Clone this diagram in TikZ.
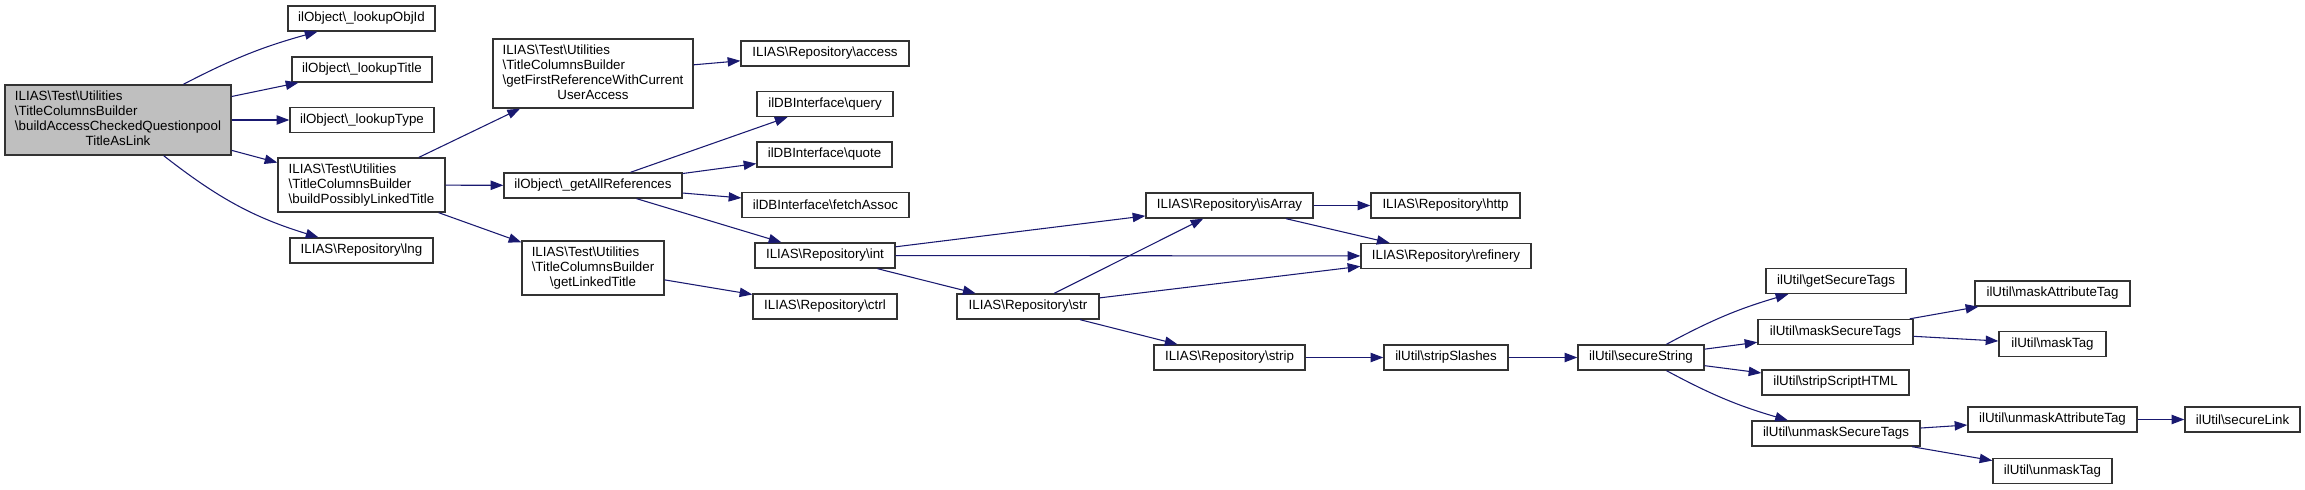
\documentclass[tikz,border=0pt]{standalone}
\usepackage{fontspec}
\setmainfont{Liberation Sans}
\usetikzlibrary{arrows.meta}
\definecolor{edgeblue}{HTML}{191970}
\definecolor{maingray}{HTML}{BFBFBF}
\newcommand\bsl{\textbackslash}
\begin{document}
\begin{tikzpicture}[x=0.75pt,y=-0.75pt,
  fn/.style={draw=black!80, line width=1pt, fill=white, inner sep=0pt,
    minimum height=25*0.75pt, font=\fontsize{10}{11.25}\selectfont},
  fnmain/.style={fn, fill=maingray},
  conn/.style={draw=edgeblue, line width=0.8pt, -{Triangle[length=9.5pt,width=7pt]}}]
\useasboundingbox (0,0) rectangle (2305,489);

% column 1
\node[fnmain, minimum width=226*0.75pt, minimum height=70*0.75pt] (main) at (118,120)
  {\begin{tabular}{@{}l@{}}ILIAS\bsl Test\bsl Utilities\\ \bsl TitleColumnsBuilder\\ \bsl buildAccessCheckedQuestionpool\\ \multicolumn{1}{@{}c@{}}{TitleAsLink}\end{tabular}};

% column 2
\node[fn, minimum width=147*0.75pt] (objid) at (361.5,18.5) {ilObject\bsl\_lookupObjId};
\node[fn, minimum width=140*0.75pt] (title) at (362,69.5) {ilObject\bsl\_lookupTitle};
\node[fn, minimum width=144*0.75pt] (type) at (362,120) {ilObject\bsl\_lookupType};
\node[fn, minimum width=167*0.75pt, minimum height=54*0.75pt] (bplt) at (361.5,185)
  {\begin{tabular}{@{}l@{}}ILIAS\bsl Test\bsl Utilities\\ \bsl TitleColumnsBuilder\\ \bsl buildPossiblyLinkedTitle\end{tabular}};
\node[fn, minimum width=143*0.75pt] (lng) at (361.5,250.5) {ILIAS\bsl Repository\bsl lng};

% column 3
\node[fn, minimum width=200*0.75pt, minimum height=69*0.75pt] (gfr) at (593,73.5)
  {\begin{tabular}{@{}l@{}}ILIAS\bsl Test\bsl Utilities\\ \bsl TitleColumnsBuilder\\ \bsl getFirstReferenceWithCurrent\\ \multicolumn{1}{@{}c@{}}{UserAccess}\end{tabular}};
\node[fn, minimum width=178*0.75pt] (gar) at (593,185.5) {ilObject\bsl\_getAllReferences};
\node[fn, minimum width=142*0.75pt, minimum height=54*0.75pt] (glt) at (593,268)
  {\begin{tabular}{@{}l@{}}ILIAS\bsl Test\bsl Utilities\\ \bsl TitleColumnsBuilder\\ \multicolumn{1}{@{}c@{}}{\bsl getLinkedTitle}\end{tabular}};

% column 4
\node[fn, minimum width=168*0.75pt] (access) at (825,53.5) {ILIAS\bsl Repository\bsl access};
\node[fn, minimum width=136*0.75pt] (query) at (825,104) {ilDBInterface\bsl query};
\node[fn, minimum width=135*0.75pt] (quote) at (824.5,154.5) {ilDBInterface\bsl quote};
\node[fn, minimum width=167*0.75pt] (fetch) at (825.5,205) {ilDBInterface\bsl fetchAssoc};
\node[fn, minimum width=140*0.75pt] (int) at (825,255.5) {ILIAS\bsl Repository\bsl int};
\node[fn, minimum width=144*0.75pt] (ctrl) at (825,306.5) {ILIAS\bsl Repository\bsl ctrl};

% column 5
\node[fn, minimum width=142*0.75pt] (str) at (1028,306.5) {ILIAS\bsl Repository\bsl str};

% column 6
\node[fn, minimum width=167*0.75pt] (isarray) at (1229.5,205.5) {ILIAS\bsl Repository\bsl isArray};
\node[fn, minimum width=151*0.75pt] (strip) at (1229.5,357.5) {ILIAS\bsl Repository\bsl strip};

% column 7
\node[fn, minimum width=149*0.75pt] (http) at (1445.5,205.5) {ILIAS\bsl Repository\bsl http};
\node[fn, minimum width=170*0.75pt] (refinery) at (1446,256) {ILIAS\bsl Repository\bsl refinery};
\node[fn, minimum width=124*0.75pt] (slashes) at (1446,357.5) {ilUtil\bsl stripSlashes};

% column 8
\node[fn, minimum width=126*0.75pt] (secstr) at (1641,357.5) {ilUtil\bsl secureString};

% column 9
\node[fn, minimum width=140*0.75pt] (gettags) at (1836,281) {ilUtil\bsl getSecureTags};
\node[fn, minimum width=155*0.75pt] (masktags) at (1835.5,332) {ilUtil\bsl maskSecureTags};
\node[fn, minimum width=147*0.75pt] (script) at (1835.5,382.5) {ilUtil\bsl stripScriptHTML};
\node[fn, minimum width=168*0.75pt] (unmasktags) at (1836,433.5) {ilUtil\bsl unmaskSecureTags};

% column 10
\node[fn, minimum width=155*0.75pt] (maskattr) at (2052.5,293.5) {ilUtil\bsl maskAttributeTag};
\node[fn, minimum width=107*0.75pt] (masktag) at (2052.5,344) {ilUtil\bsl maskTag};
\node[fn, minimum width=169*0.75pt] (unmaskattr) at (2052.5,419.5) {ilUtil\bsl unmaskAttributeTag};
\node[fn, minimum width=119*0.75pt] (unmasktag) at (2052.5,471) {ilUtil\bsl unmaskTag};

% column 11
\node[fn, minimum width=115*0.75pt] (seclink) at (2242.5,419.5) {ilUtil\bsl secureLink};

% edges
\draw[conn] (main) to[bend left=6] (objid);
\draw[conn] (main) -- (title);
\draw[conn] (main) -- (type);
\draw[conn] (main) -- (bplt);
\draw[conn] (main) to[out=-38,in=163] (lng);

\draw[conn] (bplt) -- (gfr);
\draw[conn] (bplt) -- (gar);
\draw[conn] (bplt) -- (glt);

\draw[conn] (gfr) -- (access);
\draw[conn] (gar) -- (query);
\draw[conn] (gar) -- (quote);
\draw[conn] (gar) -- (fetch);
\draw[conn] (gar) -- (int);
\draw[conn] (glt) -- (ctrl);

\draw[conn] (int) -- (isarray);
\draw[conn] (int) -- (refinery);
\draw[conn] (int) -- (str);

\draw[conn] (str) -- (isarray);
\draw[conn] (str) -- (refinery);
\draw[conn] (str) -- (strip);

\draw[conn] (isarray) -- (http);
\draw[conn] (isarray) -- (refinery);

\draw[conn] (strip) -- (slashes);
\draw[conn] (slashes) -- (secstr);

\draw[conn] (secstr) to[bend left=6] (gettags);
\draw[conn] (secstr) -- (masktags);
\draw[conn] (secstr) -- (script);
\draw[conn] (secstr) to[bend right=6] (unmasktags);

\draw[conn] (masktags) -- (maskattr);
\draw[conn] (masktags) -- (masktag);
\draw[conn] (unmasktags) -- (unmaskattr);
\draw[conn] (unmasktags) -- (unmasktag);
\draw[conn] (unmaskattr) -- (seclink);
\end{tikzpicture}
\end{document}
